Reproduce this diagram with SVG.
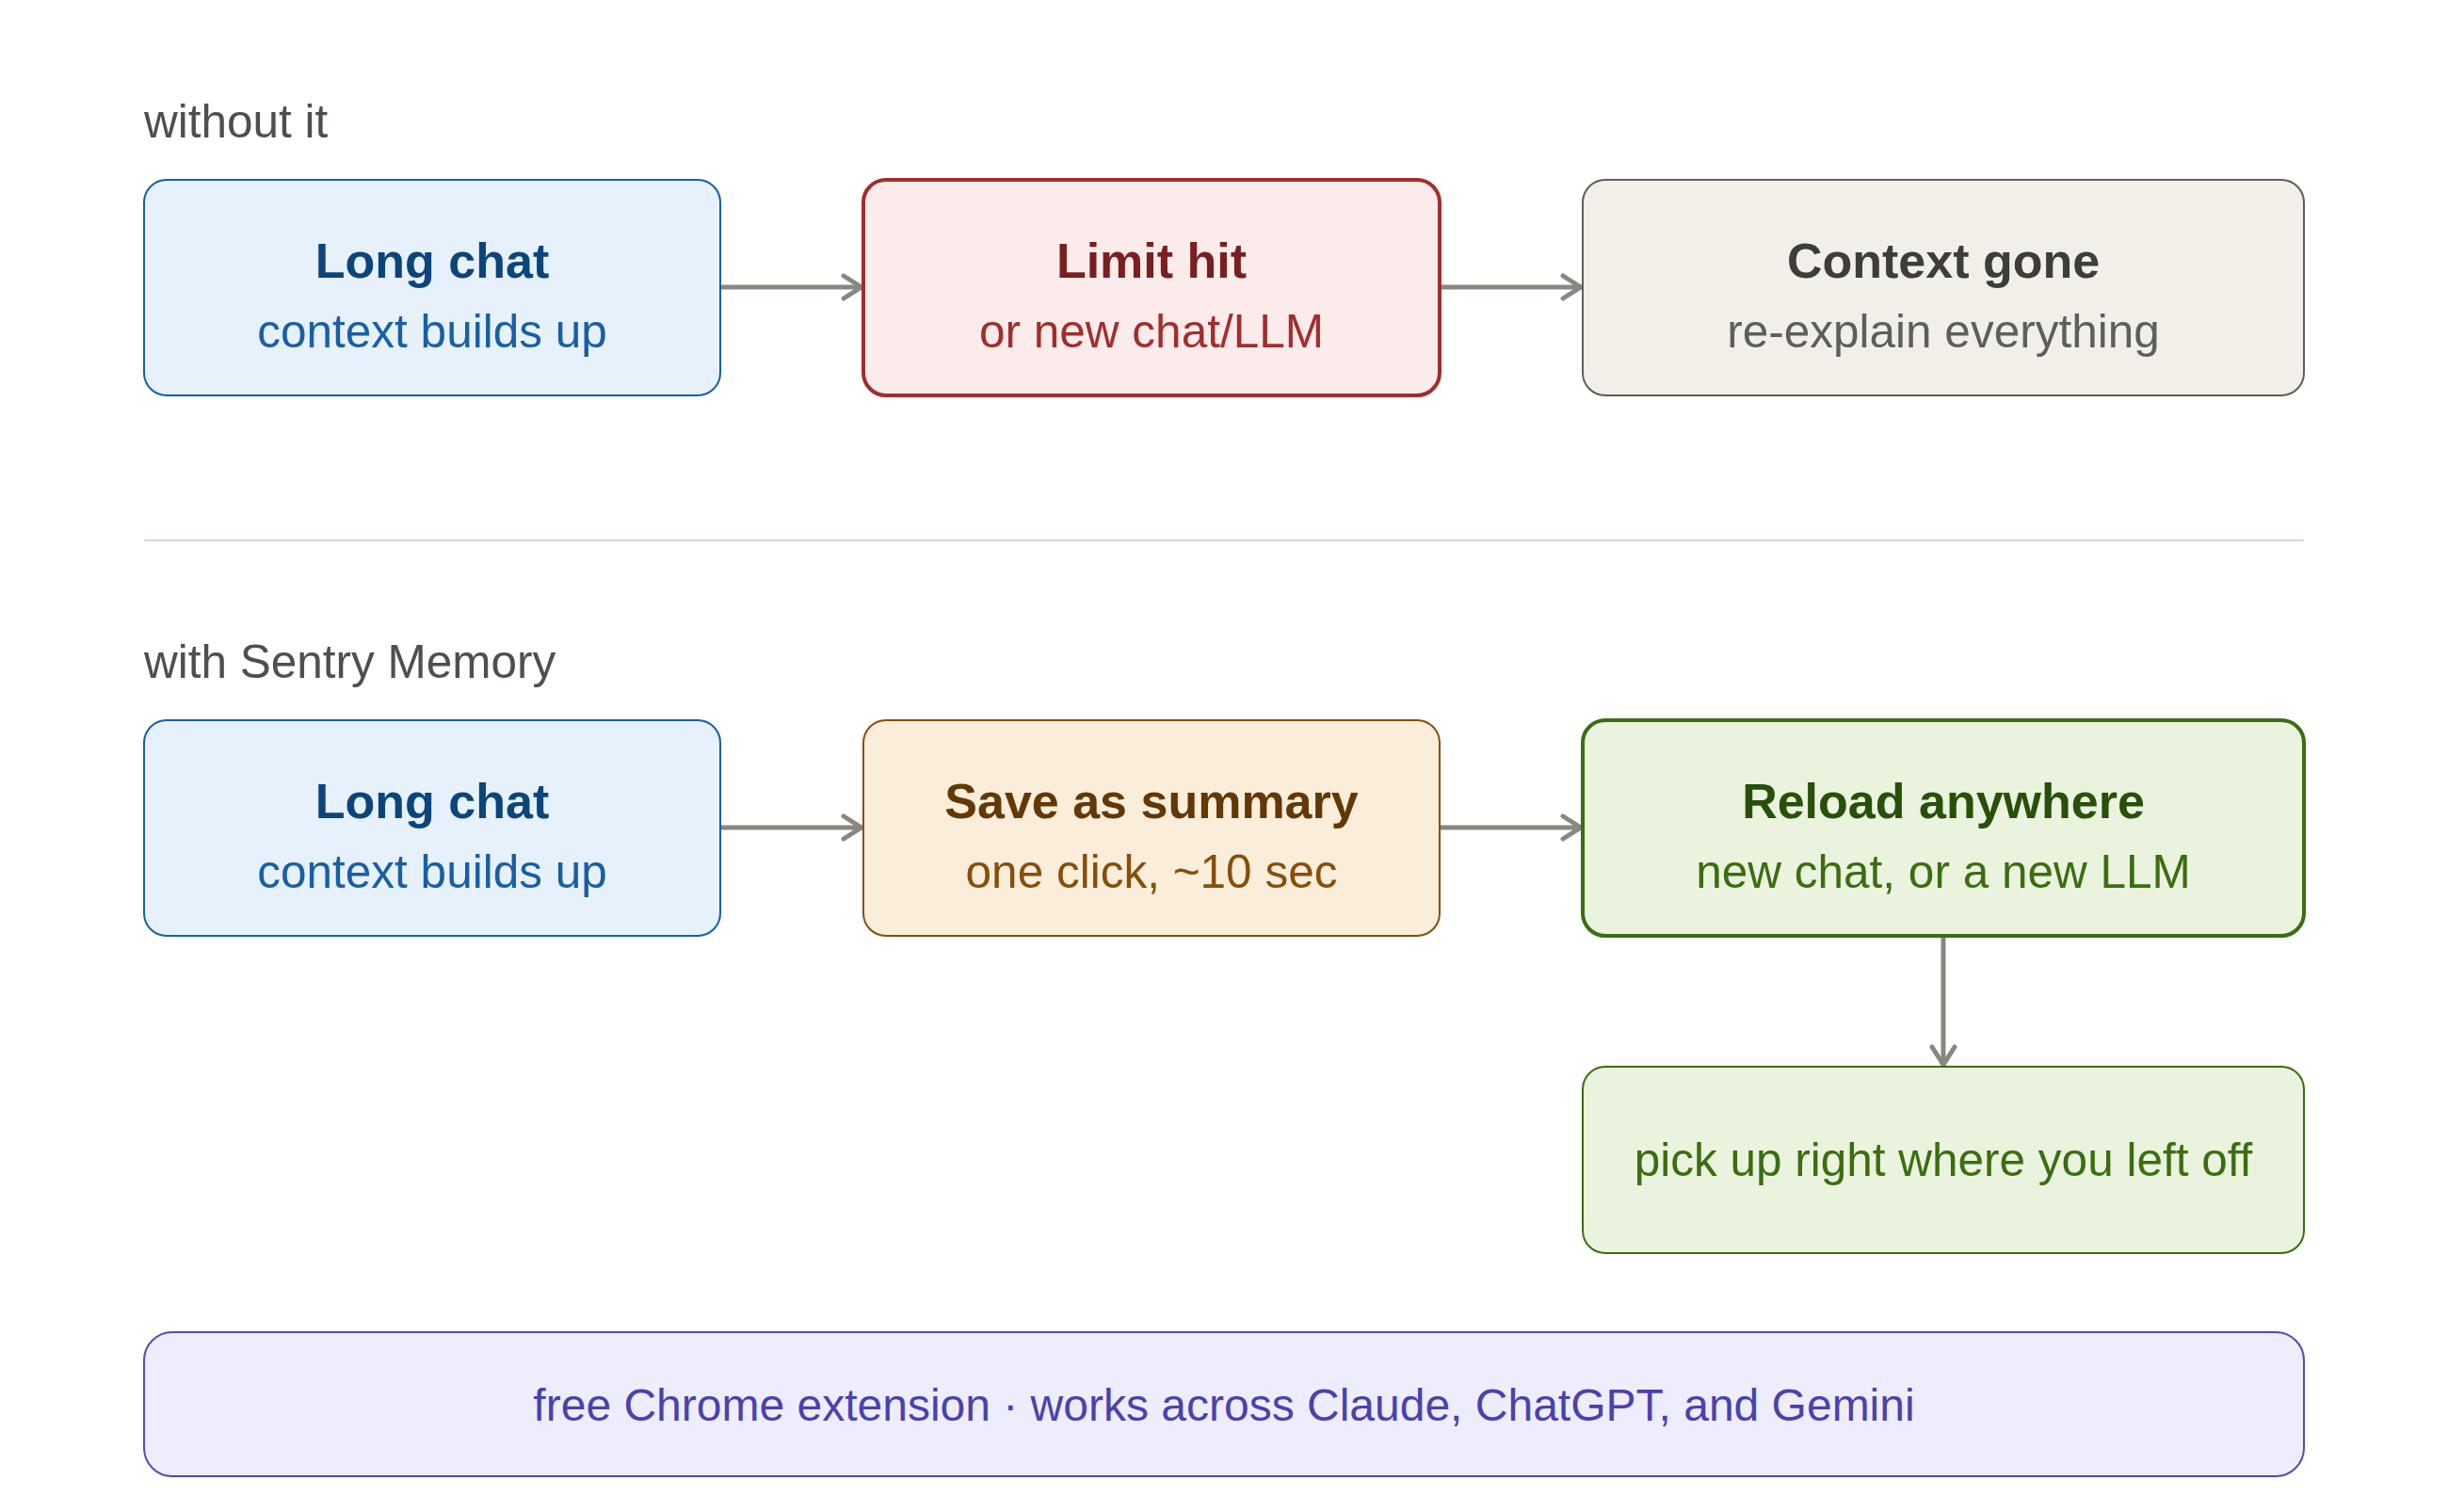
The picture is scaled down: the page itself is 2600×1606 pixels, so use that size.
<svg xmlns="http://www.w3.org/2000/svg" width="2600" height="1606" viewBox="0 0 2600 1606">
<style>
text{font-family:"Liberation Sans",Arial,sans-serif;text-anchor:middle}
.lbl{font-size:49.5px;fill:#504f4b;text-anchor:start}
.t{font-size:52px;font-weight:bold}
.s{font-size:49.5px}
.blue rect{fill:#E6F1FB;stroke:#185FA5;stroke-width:2}
.blue .t{fill:#0C447C}.blue .s{fill:#185FA5}
.red rect{fill:#FCEBEB;stroke:#A32D2D;stroke-width:4}
.red .t{fill:#791F1F}.red .s{fill:#A32D2D}
.gray rect{fill:#F1EFE8;stroke:#5F5E5A;stroke-width:2}
.gray .t{fill:#3d3d3a}.gray .s{fill:#5F5E5A}
.amber rect{fill:#FAEEDA;stroke:#854F0B;stroke-width:2}
.amber .t{fill:#633806}.amber .s{fill:#854F0B}
.green rect{fill:#EAF3DE;stroke:#3B6D11;stroke-width:2}
.green .t{fill:#27500A}.green .s{fill:#3B6D11}
.greenb rect{stroke-width:4}
.purple rect{fill:#EEEDFE;stroke:#534AB7;stroke-width:2}
.purple .s{fill:#4a41b0;font-size:48px}
.conn path{fill:none;stroke:#888780;stroke-width:5}
</style>
<defs>
<marker id="ah" viewBox="0 0 30 30" refX="27" refY="15" markerWidth="30" markerHeight="30" markerUnits="userSpaceOnUse" orient="auto">
<path d="M7 3 L26 15 L7 27" fill="none" stroke="#888780" stroke-width="5" stroke-linecap="round" stroke-linejoin="round"/>
</marker>
</defs>
<rect width="2600" height="1606" fill="#ffffff"/>
<text class="lbl" x="153" y="146">without it</text>
<line x1="153" y1="574" x2="2447" y2="574" stroke="#D9D7D0" stroke-width="2"/>
<text class="lbl" x="153" y="720">with Sentry Memory</text>

<g class="conn">
<path d="M765 305 H916" marker-end="url(#ah)"/>
<path d="M1529 305 H1680" marker-end="url(#ah)"/>
<path d="M765 879 H916" marker-end="url(#ah)"/>
<path d="M1529 879 H1680" marker-end="url(#ah)"/>
<path d="M2064 996 V1132" marker-end="url(#ah)"/>
</g>

<g id="n1" class="blue">
<rect x="153" y="191" width="612" height="229" rx="24"/>
<text class="t" x="459" y="295">Long chat</text>
<text class="s" x="459" y="369">context builds up</text>
</g>
<g id="n2" class="red">
<rect x="917" y="191" width="612" height="229" rx="24"/>
<text class="t" x="1223" y="295">Limit hit</text>
<text class="s" x="1223" y="369">or new chat/LLM</text>
</g>
<g id="n3" class="gray">
<rect x="1681" y="191" width="766" height="229" rx="24"/>
<text class="t" x="2064" y="295">Context gone</text>
<text class="s" x="2064" y="369">re-explain everything</text>
</g>
<g id="n4" class="blue">
<rect x="153" y="765" width="612" height="229" rx="24"/>
<text class="t" x="459" y="869">Long chat</text>
<text class="s" x="459" y="943">context builds up</text>
</g>
<g id="n5" class="amber">
<rect x="917" y="765" width="612" height="229" rx="24"/>
<text class="t" x="1223" y="869">Save as summary</text>
<text class="s" x="1223" y="943">one click, ~10 sec</text>
</g>
<g id="n6" class="green greenb">
<rect x="1681" y="765" width="766" height="229" rx="24"/>
<text class="t" x="2064" y="869">Reload anywhere</text>
<text class="s" x="2064" y="943">new chat, or a new LLM</text>
</g>
<g id="n7" class="green">
<rect x="1681" y="1133" width="766" height="198" rx="24"/>
<text class="s" x="2064" y="1249">pick up right where you left off</text>
</g>
<g id="n8" class="purple">
<rect x="153" y="1415" width="2294" height="153" rx="30"/>
<text class="s" x="1300" y="1509">free Chrome extension · works across Claude, ChatGPT, and Gemini</text>
</g>
</svg>
